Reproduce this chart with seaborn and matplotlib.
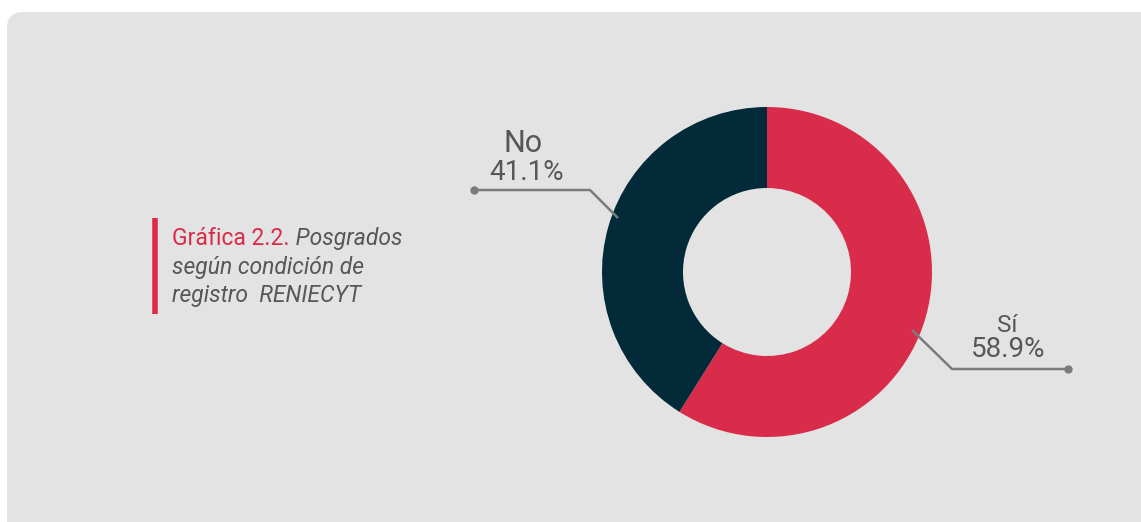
import matplotlib
matplotlib.use("Agg")
import matplotlib.pyplot as plt
import seaborn as sns
from matplotlib.patches import FancyBboxPatch

# ---- data ----
categories = ["Sí", "No"]
values = [58.9, 41.1]
colors = ["#d92b4a", "#022a38"]
caption_head = "Gráfica 2.2."
caption_rest = ["Posgrados", "según condición de", "registro  RENIECYT"]

sns.set_theme(style="white")
plt.rcParams["font.family"] = ["Roboto", "DejaVu Sans"]

W, H = 1141, 522
fig = plt.figure(figsize=(W / 100, H / 100), dpi=100)
ax = fig.add_axes([0, 0, 1, 1])
ax.set_xlim(0, W)
ax.set_ylim(0, H)
ax.set_aspect("equal")
ax.axis("off")
fig.patch.set_facecolor("white")

def Y(y):
    return H - y

# panel
panel = FancyBboxPatch((7, -40), W + 40, Y(12) + 40,
                       boxstyle="round,pad=0,rounding_size=16",
                       facecolor="#e2e3e2", edgecolor="none", zorder=0)
ax.add_patch(panel)

# donut
cx, cy, R, r_in = 767, Y(272), 165, 84
wedges, _ = ax.pie(values, colors=colors, startangle=90, counterclock=False,
                   center=(cx, cy), radius=R, frame=True,
                   wedgeprops=dict(width=R - r_in, edgecolor="none"))
for w in wedges:
    w.set_zorder(2)
ax.set_xlim(0, W)
ax.set_ylim(0, H)
ax.axis("off")

gray_txt = "#575757"
line_c = "#7b7b7b"

# leaders (layout positions)
leaders = {
    "Sí": [(1068, 369), (952, 369), (912, 330)],
    "No": [(474, 190), (590, 190), (618, 218)],
}
for k, pts in leaders.items():
    xs = [p[0] for p in pts]
    ys = [Y(p[1]) for p in pts]
    ax.plot(xs, ys, color=line_c, lw=1.8, zorder=3, solid_capstyle="butt")
    ax.plot(xs[0], ys[0], "o", color=line_c, ms=5, zorder=3)

# labels
label_pos = {"Sí": (1007, 332, 17.5, 1008, 357), "No": (523, 152, 22, 527, 180)}
for cat, val in zip(categories, values):
    x1, b1, fs1, x2, b2 = label_pos[cat]
    ax.text(x1, Y(b1), cat, ha="center", va="baseline", fontsize=fs1, color=gray_txt, zorder=4)
    ax.text(x2, Y(b2), f"{val:.1f}%", ha="center", va="baseline", fontsize=20, color=gray_txt, zorder=4)

# caption
ax.plot([155, 155], [Y(218), Y(314)], color="#d92b4a", lw=4, solid_capstyle="butt", zorder=3)
cap_fs = 16.5
t1 = ax.text(172, Y(245), caption_head, ha="left", va="baseline", fontsize=cap_fs,
             color="#d92b4a", zorder=4)
ax.annotate(" " + caption_rest[0], xy=(1, 0), xycoords=t1, xytext=(0, 0),
            textcoords="offset points", ha="left", va="bottom", fontsize=cap_fs,
            style="italic", color=gray_txt, zorder=4)
ax.text(172, Y(274), caption_rest[1], ha="left", va="baseline", fontsize=cap_fs,
        style="italic", color=gray_txt, zorder=4)
ax.text(172, Y(302), caption_rest[2], ha="left", va="baseline", fontsize=cap_fs,
        style="italic", color=gray_txt, zorder=4)

fig.savefig("out.png", dpi=100, facecolor="white")
